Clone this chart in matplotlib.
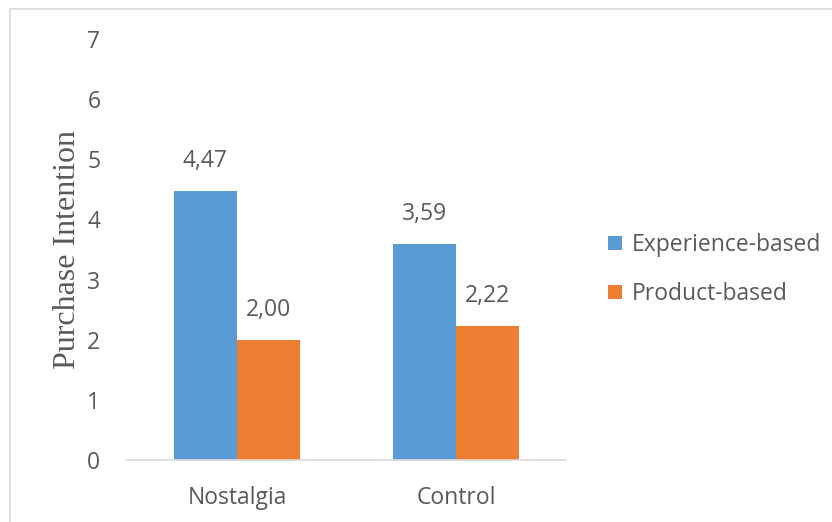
import numpy as np
import matplotlib
matplotlib.use("Agg")
import matplotlib.pyplot as plt
from matplotlib.patches import Rectangle

# data
groups = ["Nostalgia", "Control"]
series = ["Experience-based", "Product-based"]
experience = [4.47, 3.59]
product = [2.00, 2.22]
colors = ["#5B9BD5", "#ED7D31"]

TXT = "#595959"
FS = 16.5
plt.rcParams["font.family"] = ["Open Sans", "DejaVu Sans"]

fig = plt.figure(figsize=(8.32, 5.22), dpi=100)
ax = fig.add_axes([0.1532, 0.1188, 0.5265, 0.8065])

x = np.arange(len(groups))
w = 0.288
b1 = ax.bar(x - w / 2, experience, w, color=colors[0], label=series[0])
b2 = ax.bar(x + w / 2, product, w, color=colors[1], label=series[1])

for bars, vals in [(b1, experience), (b2, product)]:
    for rect, v in zip(bars, vals):
        ax.annotate(f"{v:.2f}".replace(".", ","),
                    (rect.get_x() + rect.get_width() / 2, v),
                    xytext=(0, 13), textcoords="offset points",
                    ha="center", va="bottom", fontsize=FS, color=TXT)

ax.set_xlim(-0.5, 1.5)
ax.set_ylim(0, 7)
ax.set_yticks(range(0, 8))
ax.set_xticks(x)
ax.set_xticklabels(groups)
ax.tick_params(axis="both", length=0, labelsize=FS, colors=TXT)
ax.tick_params(axis="y", pad=19.5)
ax.tick_params(axis="x", pad=19)
for s in ["left", "right", "top"]:
    ax.spines[s].set_visible(False)
ax.spines["bottom"].set_color("#D9D9D9")
ax.spines["bottom"].set_linewidth(1.2)

ax.set_ylabel("Purchase Intention", family="Liberation Serif",
              fontsize=23, color=TXT, labelpad=4)

leg = ax.legend(loc="center left", bbox_to_anchor=(1.05, 0.452),
                frameon=False, fontsize=FS, labelcolor=TXT,
                handlelength=0.6, handleheight=0.6, handletextpad=0.45,
                labelspacing=1.1)

# chart frame
fig.patches.append(Rectangle((10 / 832, -0.01), 1.0, 1 - 9 / 522 + 0.01,
                             transform=fig.transFigure, fill=False,
                             edgecolor="#D9D9D9", linewidth=1.2))

fig.savefig("out.png", dpi=100)
